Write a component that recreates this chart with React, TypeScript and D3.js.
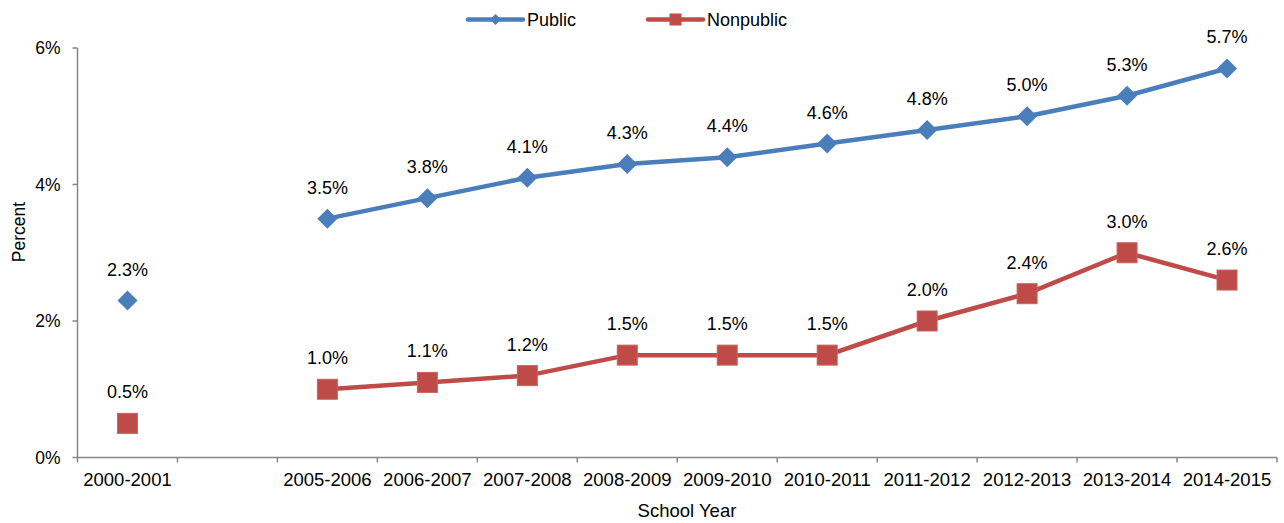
import React, { useEffect, useRef } from "react";
import * as d3 from "d3";

const width = 1284;
const height = 523;
const margin = { top: 48, right: 7, bottom: 65.5, left: 77.5 };

// school years, with one empty slot between 2000-2001 and 2005-2006
const years = [
  "2000-2001",
  "",
  "2005-2006",
  "2006-2007",
  "2007-2008",
  "2008-2009",
  "2009-2010",
  "2010-2011",
  "2011-2012",
  "2012-2013",
  "2013-2014",
  "2014-2015",
];
const publicPct = [2.3, null, 3.5, 3.8, 4.1, 4.3, 4.4, 4.6, 4.8, 5.0, 5.3, 5.7];
const nonpublicPct = [0.5, null, 1.0, 1.1, 1.2, 1.5, 1.5, 1.5, 2.0, 2.4, 3.0, 2.6];
const yTicks = [0, 2, 4, 6];

const blue = "#4A7EBB";
const red = "#BE4B48";
const axisColor = "#868686";
const font = "'Liberation Sans', Arial, sans-serif";

export default function App() {
  const ref = useRef<SVGSVGElement>(null);

  useEffect(() => {
    const svg = d3.select(ref.current);
    svg.selectAll("*").remove();

    const x = d3
      .scaleBand()
      .domain(years.map((d, i) => i + ""))
      .range([margin.left, width - margin.right]);
    const y = d3
      .scaleLinear()
      .domain([0, 6])
      .range([height - margin.bottom, margin.top]);
    const cx = (i) => x(i + "") + x.bandwidth() / 2;

    const g = svg.append("g").style("font-family", font);

    // axes
    const axisY = y(0);
    g.append("line")
      .attr("x1", margin.left)
      .attr("x2", margin.left)
      .attr("y1", y(6))
      .attr("y2", axisY)
      .attr("stroke", axisColor)
      .attr("stroke-width", 1.5);
    g.append("line")
      .attr("x1", margin.left)
      .attr("x2", width - margin.right)
      .attr("y1", axisY)
      .attr("y2", axisY)
      .attr("stroke", axisColor)
      .attr("stroke-width", 1.5);

    yTicks.forEach((t) => {
      g.append("line")
        .attr("x1", margin.left - 5)
        .attr("x2", margin.left)
        .attr("y1", y(t))
        .attr("y2", y(t))
        .attr("stroke", axisColor)
        .attr("stroke-width", 1.5);
      g.append("text")
        .attr("x", margin.left - 17)
        .attr("y", y(t))
        .attr("dy", "0.35em")
        .attr("text-anchor", "end")
        .style("font-size", "17.5px")
        .attr("fill", "#000")
        .text(t + "%");
    });

    // x ticks at band boundaries
    years.forEach((yr, i) => {
      g.append("line")
        .attr("x1", x(i + ""))
        .attr("x2", x(i + ""))
        .attr("y1", axisY)
        .attr("y2", axisY + 5)
        .attr("stroke", axisColor)
        .attr("stroke-width", 1.5);
      g.append("text")
        .attr("x", cx(i))
        .attr("y", 486)
        .attr("text-anchor", "middle")
        .style("font-size", "18.5px")
        .text(yr);
    });
    g.append("line")
      .attr("x1", width - margin.right)
      .attr("x2", width - margin.right)
      .attr("y1", axisY)
      .attr("y2", axisY + 5)
      .attr("stroke", axisColor)
      .attr("stroke-width", 1.5);

    // axis titles
    g.append("text")
      .attr("x", 687)
      .attr("y", 517)
      .attr("text-anchor", "middle")
      .style("font-size", "18.5px")
      .text("School Year");
    g.append("text")
      .attr("transform", `translate(25,232) rotate(-90)`)
      .attr("text-anchor", "middle")
      .style("font-size", "17.5px")
      .text("Percent");

    const line = d3
      .line()
      .defined((d) => d != null)
      .x((d, i) => cx(i))
      .y((d) => y(d));

    const series = [
      { values: publicPct, color: blue, shape: "diamond" },
      { values: nonpublicPct, color: red, shape: "square" },
    ];

    series.forEach((s) => {
      g.append("path")
        .datum(s.values)
        .attr("fill", "none")
        .attr("stroke", s.color)
        .attr("stroke-width", 4.5)
        .attr("d", line);

      s.values.forEach((v, i) => {
        if (v == null) return;
        const px = cx(i);
        const py = y(v);
        if (s.shape === "diamond") {
          g.append("path")
            .attr("d", `M${px},${py - 10}L${px + 10},${py}L${px},${py + 10}L${px - 10},${py}Z`)
            .attr("fill", s.color);
        } else {
          g.append("rect")
            .attr("x", px - 10)
            .attr("y", py - 10)
            .attr("width", 20)
            .attr("height", 20)
            .attr("fill", s.color)
            .attr("stroke", "#C9635F")
            .attr("stroke-width", 1);
        }
        g.append("text")
          .attr("x", px)
          .attr("y", py - 25)
          .attr("text-anchor", "middle")
          .style("font-size", "18px")
          .text(v.toFixed(1) + "%");
      });
    });

    // legend
    const legend = [
      { label: "Public", color: blue, shape: "diamond", x0: 468 },
      { label: "Nonpublic", color: red, shape: "square", x0: 648 },
    ];
    legend.forEach((l) => {
      const ly = 19.5;
      g.append("line")
        .attr("x1", l.x0)
        .attr("x2", l.x0 + 55)
        .attr("y1", ly)
        .attr("y2", ly)
        .attr("stroke", l.color)
        .attr("stroke-width", 4.5)
        .attr("stroke-linecap", "round");
      const mx = l.x0 + 27.5;
      if (l.shape === "diamond") {
        g.append("path")
          .attr("d", `M${mx},${ly - 5.5}L${mx + 5.5},${ly}L${mx},${ly + 5.5}L${mx - 5.5},${ly}Z`)
          .attr("fill", l.color);
      } else {
        g.append("rect")
          .attr("x", mx - 6)
          .attr("y", ly - 6)
          .attr("width", 12)
          .attr("height", 12)
          .attr("fill", l.color);
      }
      g.append("text")
        .attr("x", l.x0 + 59)
        .attr("y", ly)
        .attr("dy", "0.35em")
        .style("font-size", "18px")
        .text(l.label);
    });
  }, []);

  return (
    <svg
      ref={ref}
      width={width}
      height={height}
      style={{ position: "absolute", left: 0, top: 0, background: "#fff" }}
    />
  );
}
